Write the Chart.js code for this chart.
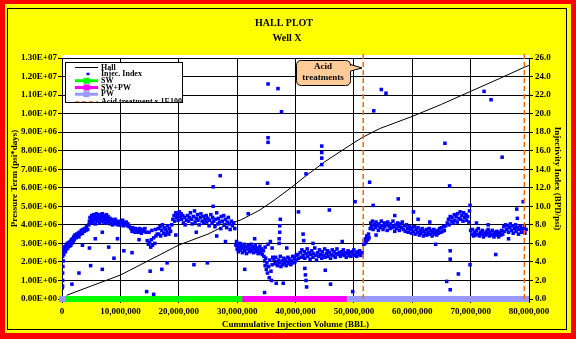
<!DOCTYPE html>
<html>
<head>
<meta charset="utf-8">
<script src="https://cdn.jsdelivr.net/npm/chart.js@4/dist/chart.umd.min.js"></script>
<style>
  html, body { margin: 0; padding: 0; background: #ffffff; }
  canvas { display: block; }
</style>
</head>
<body>
<canvas id="hall" width="576" height="339"></canvas>
<script>
// ---- Data -------------------------------------------------------------
const chartTitle = ['HALL PLOT', 'Well X'];

// Hall integral: cumulative injection (million BBL) vs pressure term (1e6 psi*days)
const hallVolMM  = [0.8, 5, 10, 15, 20, 25, 28.7, 30.6, 33.9, 36.4, 39.3, 41.9, 45, 49.9, 51.6, 54.4, 60, 65, 70, 75, 79.2, 80];
const hallTermE6 = [0.2, 0.7, 1.29, 2.1, 2.91, 3.5, 4.08, 4.26, 4.80, 5.34, 6.02, 6.67, 7.4, 8.41, 8.74, 9.19, 9.85, 10.5, 11.2, 11.9, 12.5, 12.6];

// Injectivity index readings: [cumulative injection (million BBL), BPD/psi]
const injIndex = [
  [0.05,1.2],[0.1,2.0],[0.1,2.8],[0.15,3.5],[0.2,4.1],[0.1,4.6],[0.2,5.0],[0.25,5.3],[0.15,5.6],[0.3,4.8],[0.1,1.4],
  [0.4,5.2],[0.5,5.6],[0.6,5.1],[0.7,5.8],[0.8,5.4],[0.9,6.0],[1.0,5.5],[1.1,5.9],[1.2,6.1],[1.3,5.7],[1.4,6.2],[1.5,5.8],[1.6,6.4],[1.7,6.0],[1.8,6.5],[1.9,6.2],[2.0,6.7],
  [2.1,6.4],[2.2,6.9],[2.4,6.6],[2.5,7.0],[2.6,6.8],[2.8,7.1],[2.9,6.7],[3.0,7.2],[3.2,7.0],[3.3,7.4],[3.5,7.1],[3.6,7.5],[3.8,7.3],[3.9,7.6],[4.1,7.4],[4.2,7.8],[4.4,7.5],
  [4.6,8.0],[4.7,8.4],[4.8,8.8],[4.9,8.2],[5.0,8.6],[5.1,9.0],[5.2,8.3],[5.3,8.7],[5.4,9.1],[5.5,8.5],[5.6,8.9],[5.7,8.1],[5.8,8.6],[5.9,9.2],[6.0,8.8],[6.1,8.4],[6.2,9.0],[6.3,8.7],[6.4,8.2],[6.5,9.1],[6.6,8.6],
  [6.7,8.9],[6.8,8.4],[6.9,9.2],[7.0,8.7],[7.1,8.3],[7.2,9.0],[7.3,8.6],[7.4,8.9],[7.5,8.2],[7.6,9.1],[7.7,8.8],[7.8,8.5],[7.9,8.9],[8.0,8.3],[8.2,8.7],[8.3,8.1],[8.4,8.6],[8.6,8.4],[8.7,8.0],[8.8,8.5],[9.0,8.2],[9.1,8.6],[9.3,8.1],[9.4,8.4],[9.6,8.0],
  [9.8,8.3],[9.9,8.0],[10.1,8.4],[10.2,8.1],[10.4,8.5],[10.5,7.9],[10.7,8.2],[10.8,8.0],[11.0,8.3],[11.2,7.9],[11.3,8.1],[11.5,7.8],
  [11.8,7.6],[12.0,7.3],[12.1,7.7],[12.3,7.4],[12.5,7.2],[12.6,7.6],[12.8,7.3],[13.0,7.5],[13.1,7.2],[13.3,7.6],[13.5,7.4],[13.6,7.1],[13.8,7.5],[14.0,7.3],[14.2,7.6],[14.4,7.2],
  [14.6,6.3],[14.8,5.9],[15.0,6.1],[15.2,5.6],[15.3,6.4],[15.5,5.8],[15.7,6.6],[15.9,6.0],[16.1,6.8],[16.3,7.0],[14.9,7.2],[15.4,7.4],[16.0,7.5],
  [16.5,7.6],[16.6,7.0],[16.8,7.8],[16.9,6.8],[17.1,7.4],[17.2,8.0],[17.4,7.1],[17.5,7.7],[17.7,6.9],[17.8,7.5],[18.0,7.2],[18.1,7.9],[18.3,7.0],[18.4,7.6],[18.6,7.3],
  [18.8,8.0],[19.0,8.6],[19.2,9.0],[19.3,8.4],[19.5,9.3],[19.6,8.8],[19.8,9.1],[19.9,8.5],[20.1,9.4],[20.2,8.9],[20.4,9.2],[20.5,8.6],[20.7,9.0],[20.8,8.2],[21.0,8.8],[21.1,8.0],[21.3,8.5],
  [21.5,9.0],[21.7,8.4],[21.8,8.8],[22.0,9.3],[22.2,8.6],[22.3,8.1],[22.5,8.9],[22.7,9.5],[22.8,8.3],[23.0,8.7],[23.2,9.1],[23.3,8.5],[23.5,8.0],[23.7,8.8],[23.8,9.2],[24.0,8.4],[24.2,8.9],[24.3,8.2],[24.5,8.6],[24.7,9.0],[24.8,8.3],[25.0,8.7],[25.2,7.9],[25.3,8.5],[25.5,9.1],[25.7,8.2],[25.8,8.8],[26.0,8.4],[26.2,7.8],[26.3,8.6],[26.5,9.3],[26.7,8.1],[26.8,8.7],[27.0,8.3],[27.2,7.6],[27.3,8.9],[27.5,8.4],[27.7,9.0],[27.8,8.0],[28.0,8.6],[28.2,7.7],[28.3,8.3],[28.5,8.8],[28.7,8.1],[28.8,7.5],[29.0,8.4],[29.2,7.9],[29.4,8.2],[29.6,7.6],
  [29.8,5.8],[29.9,6.2],[30.0,5.4],[30.1,5.9],[30.2,5.1],[30.4,5.6],[30.5,6.0],[30.6,5.3],[30.8,5.7],[30.9,5.0],[31.0,5.5],[31.2,5.9],[31.3,5.2],[31.5,5.6],[31.6,4.9],[31.8,5.4],[31.9,5.8],[32.1,5.1],[32.2,5.5],[32.4,5.9],[32.5,5.2],[32.7,5.6],[32.8,5.0],[33.0,5.4],[33.1,5.8],[33.3,5.1],[33.4,5.5],[33.6,4.9],[33.7,5.3],[33.9,5.7],[34.0,5.0],[34.2,5.4],[34.3,4.8],[34.5,5.2],
  [34.6,4.6],[34.7,4.1],[34.8,3.6],[34.9,4.4],[35.0,3.2],[35.1,3.9],[35.2,2.8],[35.4,3.5],[35.5,2.3],[35.6,4.2],[35.8,3.0],[35.9,2.0],[36.0,3.7],[36.1,4.5],[34.8,5.6],[35.3,5.9],[35.7,6.2],[36.0,5.5],
  [37.2,6.5],[37.3,7.2],[37.3,7.9],[37.4,8.6],[37.2,6.0],
  [36.3,4.3],[36.5,3.8],[36.6,4.5],[36.8,4.0],[36.9,3.6],[37.1,4.2],[37.2,3.9],[37.4,4.6],[37.5,3.5],[37.7,4.1],[37.8,3.7],[38.0,4.4],[38.1,3.9],[38.3,4.2],[38.4,3.6],[38.6,4.0],[38.7,4.5],[38.9,3.8],[39.0,4.3],[39.2,3.7],[39.3,4.1],[39.5,4.6],[39.6,3.9],[39.8,4.4],[39.9,4.0],[40.1,4.7],[40.2,4.2],[40.4,4.8],[40.5,4.4],
  [41.6,3.3],[41.7,2.6],[41.8,2.0],[41.9,1.3],[41.3,7.0],[41.4,6.3],
  [40.8,5.0],[41.0,4.5],[41.1,5.3],[41.3,4.7],[41.5,5.1],[41.6,4.4],[41.8,4.9],[42.0,5.4],[42.1,4.6],[42.3,5.0],[42.5,4.3],[42.6,4.8],[42.8,5.2],[43.0,4.5],[43.1,4.9],[43.3,5.5],[43.5,4.7],[43.6,4.2],[43.8,5.0],[44.0,4.6],[44.1,5.3],[44.3,4.8],[44.5,4.4],[44.6,5.1],[44.8,4.7],[45.0,5.4],[45.1,4.5],[45.3,4.9],[45.5,5.2],[45.6,4.6],[45.8,5.0],[46.0,4.4],[46.1,4.8],[46.3,5.3],[46.5,4.7],[46.6,5.1],[46.8,4.5],[47.0,4.9],[47.1,5.4],[47.3,4.8],[47.5,5.0],
  [47.7,4.6],[47.9,5.1],[48.0,4.8],[48.2,5.3],[48.4,4.7],[48.5,5.0],[48.7,4.5],[48.9,4.9],[49.0,5.2],[49.2,4.7],[49.4,5.0],[49.5,4.6],[49.7,5.1],[49.9,4.8],[50.0,5.3],[50.2,4.7],[50.4,5.0],[50.5,4.6],[50.7,5.1],[50.9,4.8],[51.0,5.2],[51.2,4.7],[51.4,5.0],
  [51.7,5.9],[51.8,6.3],[51.9,6.0],[52.0,6.5],[52.1,6.2],[52.2,6.8],[52.4,6.4],[52.5,7.0],[52.6,6.6],
  [52.8,7.6],[52.9,8.2],[53.0,7.8],[53.2,8.4],[53.3,7.5],[53.5,8.0],[53.7,7.7],[53.8,8.3],[54.0,7.9],[54.2,7.4],[54.3,8.1],[54.5,7.7],[54.7,8.4],[54.8,7.9],[55.0,7.5],[55.2,8.2],[55.3,7.8],[55.5,8.0],[55.7,7.4],[55.8,8.3],[56.0,7.9],[56.2,7.6],[56.3,8.1],[56.5,7.7],[56.7,8.4],[56.8,7.8],[57.0,7.3],[57.2,8.0],[57.3,7.6],[57.5,8.2],[57.7,7.8],[57.8,7.4],[58.0,8.1],[58.2,7.7],[58.3,8.3],[58.5,7.5],[58.7,7.9],[58.8,7.3],[59.0,8.0],[59.2,7.6],[59.3,7.2],[59.5,7.8],
  [59.7,7.5],[59.9,7.1],[60.0,7.7],[60.2,7.3],[60.4,7.8],[60.5,7.0],[60.7,7.5],[60.9,7.2],[61.0,7.7],[61.2,6.9],[61.4,7.4],[61.5,7.1],[61.7,7.6],[61.9,6.8],[62.0,7.3],[62.2,7.0],[62.4,7.5],[62.5,6.9],[62.7,7.2],[62.9,7.6],[63.0,7.0],[63.2,7.4],[63.4,6.8],[63.5,7.2],[63.7,7.5],[63.9,7.0],[64.0,7.3],[64.2,6.9],[64.4,7.4],[64.5,7.1],[64.7,7.6],[64.9,7.2],[65.0,7.7],[65.2,7.3],[65.4,7.8],[65.5,7.4],[65.7,7.9],
  [66.0,8.2],[66.2,8.6],[66.3,8.0],[66.5,8.9],[66.7,8.4],[66.8,8.8],[67.0,8.2],[67.2,9.1],[67.3,8.5],[67.5,8.9],[67.7,8.3],[67.8,9.2],[68.0,8.7],[68.2,9.4],[68.3,8.6],[68.5,9.0],[68.7,8.4],[68.8,9.3],[69.0,8.8],[69.2,9.1],[69.3,8.5],[69.5,8.9],[69.7,8.3],[69.8,9.5],
  [70.0,7.4],[70.2,7.0],[70.3,7.5],[70.5,6.8],[70.7,7.2],[70.8,6.9],[71.0,7.4],[71.2,7.0],[71.3,7.6],[71.5,6.8],[71.7,7.2],[71.8,7.0],[72.0,7.4],[72.2,6.7],[72.3,7.1],[72.5,6.9],[72.7,7.3],[72.8,7.0],[73.0,7.5],[73.2,6.8],[73.3,7.2],[73.5,6.9],[73.7,7.4],[73.8,7.0],[74.0,6.7],[74.2,7.2],[74.3,6.9],[74.5,7.3],[74.7,7.0],[74.8,6.7],[75.0,7.2],[75.2,6.9],[75.3,7.4],[75.5,7.0],
  [75.7,7.8],[75.8,7.3],[76.0,8.0],[76.2,7.5],[76.3,7.9],[76.5,7.2],[76.7,7.7],[76.8,8.1],[77.0,7.4],[77.2,7.9],[77.3,7.1],[77.5,7.6],[77.7,8.0],[77.8,7.3],[78.0,7.7],[78.2,7.0],[78.3,7.5],[78.5,7.9],[78.7,7.2],[78.8,7.6],[79.0,7.4],[79.2,7.8],[79.3,7.1],[79.5,7.5],
  [1.7,1.6],[2.9,2.8],[4.7,5.5],[4.9,3.6],[5.7,6.5],[6.9,3.2],[6.9,7.2],[8.0,5.6],[8.9,4.4],[10.6,5.2],[12.0,5.0],[14.5,0.8],[15.1,3.0],[15.7,0.5],[17.1,3.2],[18.0,3.9],[22.6,3.7],[24.9,3.9],
  [25.9,12.1],[25.9,10.0],[27.1,13.3],[31.3,3.2],[31.9,9.2],[34.7,0.7],[35.2,12.5],[35.3,23.2],[35.3,17.4],[35.3,16.9],[36.7,1.7],[37.0,22.7],[37.6,20.2],[37.9,1.7],[40.5,9.4],[41.8,13.5],
  [44.5,16.5],[44.5,15.8],[44.5,15.2],[44.5,14.5],[45.1,3.1],[45.8,9.6],[46.0,1.6],[49.8,0.8],[50.2,10.5],[52.7,12.6],[53.3,10.1],[53.4,20.3],[54.7,22.6],[55.5,22.2],[57.6,10.8],[60.2,9.4],
  [65.6,16.8],[65.9,1.9],[66.4,12.2],[66.5,5.2],[66.5,4.3],[66.5,1.0],[67.9,2.7],[69.9,3.7],[69.9,10.1],[72.3,22.4],[73.5,21.5],[74.3,4.8],[75.4,15.3],[77.9,9.7],[79.0,10.5],
  [3.5,5.8],[9.5,6.5],[13.2,6.4],[19.5,6.9],[23.0,7.2],[26.5,6.8],[28.0,6.2],[33.0,6.5],[38.5,5.5],[43.0,6.0],[48.0,6.2],[53.8,6.9],[57.0,9.0],[61.0,8.6],[63.0,8.3],[64.0,5.9],[71.0,8.2],[73.0,8.0],[76.5,6.5],[78.0,8.7]
];

// Injected water source periods (million BBL)
const swSpan   = [0.3, 31.4];
const swpwSpan = [31.4, 49.3];
const pwSpans  = [[0, 0], [49.3, 79.5]];

// Acid treatment dates (million BBL)
const acidVolMM = [51.6, 79.2];

const legendLabels = ['Hall', 'Injec. Index', 'SW', 'SW+PW', 'PW', 'Acid treatment x 1E100'];
const calloutText  = ['Acid', 'treatments'];

// ---- Helpers ----------------------------------------------------------
const MM = 1e6;
const FONT = "'Liberation Serif', 'Times New Roman', serif";
const COL = { blue: '#0000FF', sw: '#00FF00', swpw: '#FF00FF', pw: '#9999FF', acid: '#FF6600' };

function sci(v) {
  if (Math.abs(v) < 1e-9) return '0.00E+00';
  const e = Math.floor(Math.log10(Math.abs(v)) + 1e-9);
  const m = v / Math.pow(10, e);
  return m.toFixed(2) + 'E+' + String(e).padStart(2, '0');
}
function commas(v) {
  return String(Math.round(v)).replace(/\B(?=(\d{3})+(?!\d))/g, ',');
}
function spanPts(span) {
  return [{ x: span[0] * MM, y: 0 }, { x: span[1] * MM, y: 0 }];
}

const hallData = hallVolMM.map((v, i) => ({ x: v * MM, y: hallTermE6[i] * MM }));
const injData  = injIndex.map(p => ({ x: p[0] * MM, y: p[1] }));
const pwData = [];
pwSpans.forEach((s, i) => {
  if (i > 0) pwData.push({ x: (s[0] - 0.01) * MM, y: null });
  pwData.push(...spanPts(s));
});
const acidData = [];
acidVolMM.forEach((v, i) => {
  if (i > 0) acidData.push({ x: v * MM, y: null });
  acidData.push({ x: v * MM, y: 0 }, { x: v * MM, y: 1.33e7 });
});

// ---- Frame, titles, legend and callout --------------------------------
const framePlugin = {
  id: 'frame',
  beforeDraw(chart) {
    const { ctx, chartArea: a } = chart;
    ctx.save();
    ctx.fillStyle = '#FF0000';
    ctx.fillRect(0, 0, 576, 339);
    ctx.fillStyle = '#FFFF00';
    ctx.fillRect(5, 4, 566, 329);
    ctx.strokeStyle = '#000';
    ctx.lineWidth = 1;
    ctx.strokeRect(7.5, 8.5, 559, 321);
    ctx.fillStyle = '#FFFFFF';
    ctx.fillRect(a.left, a.top - 3, a.right - a.left, a.bottom - a.top + 3);
    ctx.fillStyle = '#000';
    ctx.textAlign = 'center';
    ctx.textBaseline = 'middle';
    ctx.font = 'bold 10px ' + FONT;
    ctx.fillText(chartTitle[0], 284, 23);
    ctx.fillText(chartTitle[1], 287, 38);
    ctx.restore();
  },
  afterDraw(chart) {
    const { ctx } = chart;
    ctx.save();
    // legend box
    const bx = 65.5, by = 62.5, bw = 117, bh = 40;
    ctx.fillStyle = '#fff';
    ctx.fillRect(bx, by, bw, bh);
    ctx.save();
    ctx.beginPath();
    ctx.rect(bx, by, bw, bh);
    ctx.clip();
    const rowY = [67, 73.7, 80.3, 87, 93.7, 101.5];
    const x0 = 75, x1 = 98, xm = 86.5;
    ctx.font = 'bold 8px ' + FONT;
    ctx.textBaseline = 'middle';
    ctx.textAlign = 'left';
    legendLabels.forEach((t, i) => {
      const y = rowY[i];
      ctx.setLineDash([]);
      if (i === 0) {
        ctx.strokeStyle = '#000'; ctx.lineWidth = 1;
        ctx.beginPath(); ctx.moveTo(x0, y + 0.5); ctx.lineTo(x1, y + 0.5); ctx.stroke();
      } else if (i === 1) {
        ctx.fillStyle = COL.blue; ctx.fillRect(xm, y - 1, 3, 2.5);
      } else if (i <= 4) {
        const c = [COL.sw, COL.swpw, COL.pw][i - 2];
        ctx.strokeStyle = c; ctx.lineWidth = 3;
        ctx.beginPath(); ctx.moveTo(x0, y + 0.5); ctx.lineTo(x1, y + 0.5); ctx.stroke();
        ctx.fillStyle = c; ctx.fillRect(xm - 3, y - 2.5, 6, 6);
      } else {
        ctx.strokeStyle = COL.acid; ctx.lineWidth = 1.5; ctx.setLineDash([4, 3]);
        ctx.beginPath(); ctx.moveTo(x0, y + 0.5); ctx.lineTo(x1, y + 0.5); ctx.stroke();
      }
      ctx.fillStyle = '#000';
      ctx.fillText(t, 101, y + 0.5);
    });
    ctx.restore();
    ctx.strokeStyle = '#000'; ctx.lineWidth = 1; ctx.setLineDash([]);
    ctx.strokeRect(bx, by, bw, bh);

    // callout pointing at the first acid treatment
    const l = 296.5, r = 350.5, t = 60.5, b = 85.5, rad = 5;
    ctx.beginPath();
    ctx.moveTo(l + rad, t);
    ctx.lineTo(r - rad, t);
    ctx.quadraticCurveTo(r, t, r, t + rad);
    ctx.lineTo(r, 64.5);
    ctx.lineTo(362, 68);
    ctx.lineTo(r, 71);
    ctx.lineTo(r, b - rad);
    ctx.quadraticCurveTo(r, b, r - rad, b);
    ctx.lineTo(l + rad, b);
    ctx.quadraticCurveTo(l, b, l, b - rad);
    ctx.lineTo(l, t + rad);
    ctx.quadraticCurveTo(l, t, l + rad, t);
    ctx.closePath();
    ctx.fillStyle = '#FFCC99';
    ctx.fill();
    ctx.strokeStyle = '#000';
    ctx.stroke();
    ctx.fillStyle = '#000';
    ctx.font = 'bold 9px ' + FONT;
    ctx.textAlign = 'center';
    ctx.textBaseline = 'middle';
    ctx.fillText(calloutText[0], 323, 66.5);
    ctx.fillText(calloutText[1], 323, 77.5);
    ctx.restore();
  }
};

// ---- Chart -------------------------------------------------------------
const tickFont = { family: FONT, size: 9, weight: 'bold' };
const gridBase = { color: '#000', lineWidth: 1, tickLength: 4, tickColor: '#000' };

new Chart(document.getElementById('hall'), {
  type: 'scatter',
  data: {
    datasets: [
      { label: 'Hall', data: hallData, yAxisID: 'y', showLine: true, borderColor: '#000', borderWidth: 1, pointRadius: 0, order: 5 },
      { label: 'Injec. Index', data: injData, yAxisID: 'y1', showLine: false, pointStyle: 'rect', pointRadius: 2.5, pointBorderWidth: 0, backgroundColor: COL.blue, borderColor: COL.blue, order: 1 },
      { label: 'SW', data: spanPts(swSpan), yAxisID: 'y1', showLine: true, borderColor: COL.sw, backgroundColor: COL.sw, borderWidth: 6, borderCapStyle: 'butt', pointStyle: 'rect', pointRadius: 4.2, pointBorderWidth: 0, clip: false, order: 4 },
      { label: 'SW+PW', data: spanPts(swpwSpan), yAxisID: 'y1', showLine: true, borderColor: COL.swpw, backgroundColor: COL.swpw, borderWidth: 6, borderCapStyle: 'butt', pointStyle: 'rect', pointRadius: 4.2, pointBorderWidth: 0, clip: false, order: 3 },
      { label: 'PW', data: pwData, yAxisID: 'y1', showLine: true, spanGaps: false, borderColor: COL.pw, backgroundColor: COL.pw, borderWidth: 6, borderCapStyle: 'butt', pointStyle: 'rect', pointRadius: 4.2, pointBorderWidth: 0, clip: false, order: 2 },
      { label: 'Acid treatment x 1E100', data: acidData, yAxisID: 'y', showLine: true, spanGaps: false, borderColor: COL.acid, borderWidth: 1.5, borderDash: [5, 3], pointRadius: 0, clip: { left: 0, top: 4, right: 2, bottom: 0 }, order: 0 }
    ]
  },
  options: {
    responsive: false,
    animation: false,
    devicePixelRatio: 1,
    layout: { padding: { left: 8, right: 0, top: 58, bottom: 0 } },
    plugins: { legend: { display: false }, tooltip: { enabled: false }, title: { display: false } },
    scales: {
      x: {
        type: 'linear', position: 'bottom', min: 0, max: 80 * MM,
        ticks: { stepSize: 10 * MM, autoSkip: false, maxRotation: 0, padding: 3, color: '#000', font: tickFont, callback: v => commas(v) },
        grid: gridBase,
        border: { color: '#000', width: 1 },
        title: { display: true, text: 'Cummulative Injection Volume (BBL)', color: '#000', font: tickFont, padding: { top: 0, bottom: 9 } },
        afterFit(s) { s.height = 40; }
      },
      y: {
        type: 'linear', position: 'left', min: 0, max: 1.3e7,
        ticks: { stepSize: 1e6, autoSkip: false, padding: 1, color: '#000', font: tickFont, callback: v => sci(v) },
        grid: gridBase,
        border: { color: '#000', width: 1 },
        title: { display: true, text: 'Pressure Term (psi*days)', color: '#000', font: tickFont, padding: { top: 1.6, bottom: 0 } },
        afterFit(s) { s.width = 54; }
      },
      y1: {
        type: 'linear', position: 'right', min: 0, max: 26,
        ticks: { stepSize: 2, autoSkip: false, padding: 2, color: '#000', font: tickFont, callback: v => Number(v).toFixed(1) },
        grid: Object.assign({}, gridBase, { drawOnChartArea: false }),
        border: { color: '#000', width: 1 },
        title: { display: true, text: 'Injectivity Index (BPD/psi)', color: '#000', font: tickFont, padding: { top: 13.6, bottom: 0 } },
        afterFit(s) { s.width = 47; }
      }
    }
  },
  plugins: [framePlugin]
});
</script>
</body>
</html>
